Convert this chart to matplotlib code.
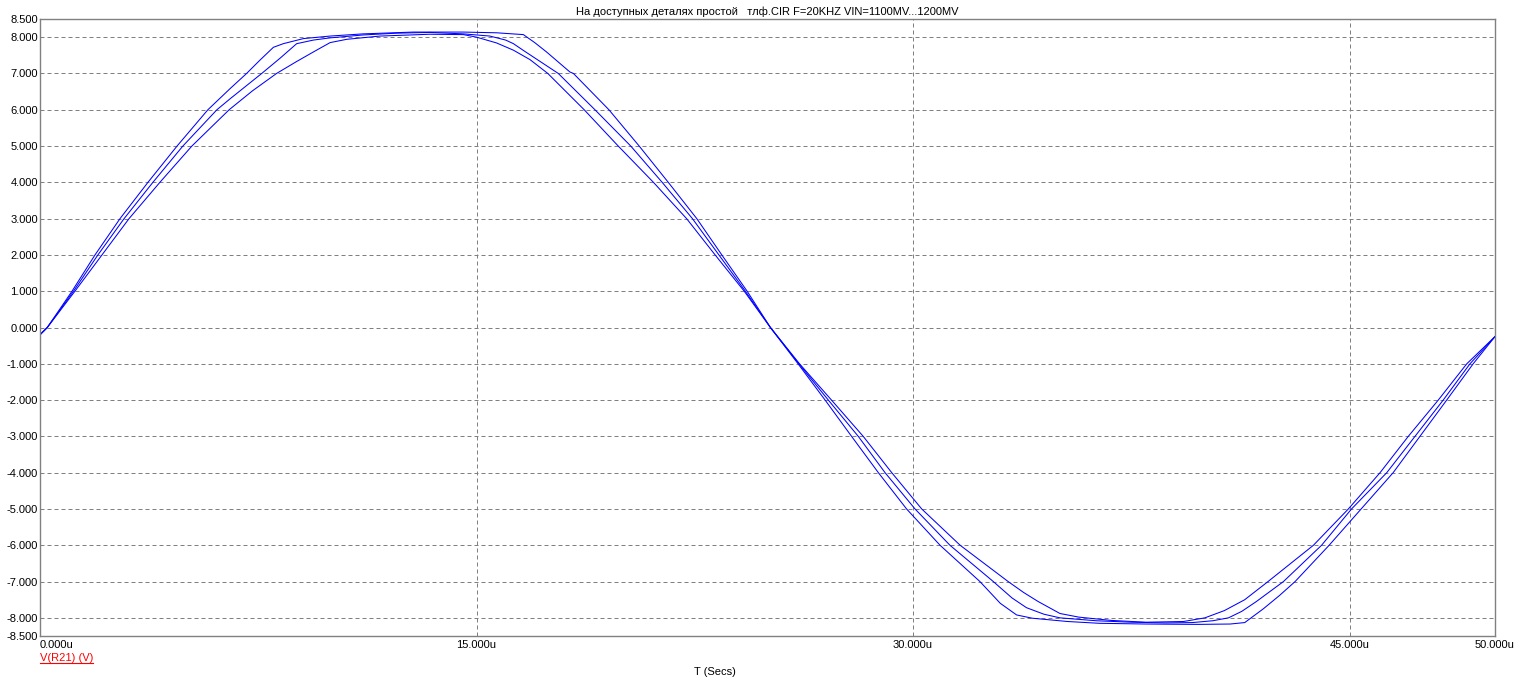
import matplotlib
matplotlib.use("Agg")
import matplotlib.pyplot as plt
from matplotlib.ticker import FormatStrFormatter
from matplotlib.lines import Line2D

plt.rcParams['font.family'] = ['Liberation Sans', 'DejaVu Sans']

title = "На доступных деталях простой   тлф.CIR F=20KHZ VIN=1100MV...1200MV"

# V(R21) for the three input levels (time in us, volts)
t_1200 = [0, 0.25, 1.10, 1.89, 2.75, 3.71, 4.71, 5.77, 6.53, 7.10, 7.55, 8.02, 8.36, 9.05,
          9.97, 11.1, 12.83, 14.55, 15.69, 16.61, 17.0, 17.41, 18.21, 18.33, 19.55, 20.59,
          21.59, 22.57, 23.43, 24.30, 25.10, 26.05, 26.98, 27.89, 28.81, 29.78, 30.93,
          32.30, 32.65, 33.00, 33.56, 34.10, 35.30, 36.40, 38.0, 39.8, 40.9, 41.4, 42.04,
          42.60, 43.13, 44.30, 45.40, 46.50, 47.42, 48.34, 49.25, 50.0]
v_1200 = [-0.20, 0.00, 1.00, 2.00, 3.00, 4.00, 5.00, 6.00, 6.58, 7.00, 7.36, 7.72, 7.82, 7.96,
          8.03, 8.09, 8.14, 8.14, 8.12, 8.07, 7.85, 7.59, 7.04, 7.00, 6.00, 5.00,
          4.00, 3.00, 2.00, 1.00, 0.00, -1.00, -2.00, -3.00, -4.00, -5.00, -6.00,
          -7.00, -7.30, -7.60, -7.92, -8.01, -8.10, -8.15, -8.17, -8.18, -8.17, -8.13, -7.75,
          -7.38, -7.00, -6.00, -5.00, -4.00, -3.00, -2.00, -1.00, -0.25]

t_1150 = [0, 0.25, 1.15, 1.99, 2.89, 3.88, 4.91, 6.08, 6.53, 7.62, 8.25, 8.82, 9.40, 9.97,
          11.1, 12.26, 13.4, 14.55, 15.46, 16.0, 16.27, 16.60, 17.81, 19.07, 20.30, 21.38,
          22.42, 23.33, 24.24, 25.10, 26.08, 27.09, 28.12, 29.04, 30.07, 31.27, 32.76,
          33.40, 33.90, 34.50, 35.05, 36.30, 37.50, 38.70, 39.60, 40.30, 40.84, 41.30,
          41.80, 42.73, 44.04, 45.07, 46.28, 47.25, 48.22, 49.14, 50.0]
v_1150 = [-0.20, 0.00, 1.00, 2.00, 3.00, 4.00, 5.00, 6.00, 6.30, 7.00, 7.42, 7.82, 7.92, 7.98,
          8.06, 8.11, 8.13, 8.09, 8.03, 7.92, 7.82, 7.64, 7.00, 6.00, 5.00, 4.00,
          3.00, 2.00, 1.00, 0.00, -1.00, -2.00, -3.00, -4.00, -5.00, -6.00, -7.00,
          -7.45, -7.72, -7.90, -8.00, -8.08, -8.12, -8.14, -8.13, -8.08, -8.00, -7.82,
          -7.55, -7.00, -6.00, -5.00, -4.00, -3.00, -2.00, -1.00, -0.25]

t_1100 = [0, 0.25, 1.20, 2.13, 3.06, 4.12, 5.22, 6.50, 7.30, 8.13, 8.80, 9.39, 9.97, 10.54,
          11.68, 13.4, 14.55, 15.0, 15.69, 16.27, 16.84, 17.45, 18.70, 19.87, 21.08, 22.22,
          23.20, 24.20, 25.10, 26.10, 27.20, 28.29, 29.27, 30.30, 31.62, 33.27, 33.80,
          34.30, 35.05, 35.70, 36.80, 38.0, 39.3, 40.03, 40.70, 41.40, 42.20, 43.76, 44.96,
          46.05, 47.02, 48.05, 49.03, 50.0]
v_1100 = [-0.20, 0.00, 1.00, 2.00, 3.00, 4.00, 5.00, 6.00, 6.52, 7.00, 7.32, 7.59, 7.85, 7.94,
          8.03, 8.08, 8.07, 8.00, 7.84, 7.64, 7.38, 7.00, 6.00, 5.00, 4.00, 3.00,
          2.00, 1.00, 0.00, -1.00, -2.00, -3.00, -4.00, -5.00, -6.00, -7.00, -7.30,
          -7.55, -7.88, -7.98, -8.07, -8.12, -8.10, -8.00, -7.80, -7.50, -7.00, -6.00, -5.00,
          -4.00, -3.00, -2.00, -1.00, -0.25]

y_ticks = [-8.5, -8, -7, -6, -5, -4, -3, -2, -1, 0, 1, 2, 3, 4, 5, 6, 7, 8, 8.5]
x_ticks = [0, 15, 30, 45, 50]
x_labels = ["0.000u", "15.000u", "30.000u", "45.000u", "50.000u"]

W, H = 1524, 690
fig = plt.figure(figsize=(W / 100, H / 100), dpi=100)
ax = fig.add_axes([40 / W, 1 - 636 / H, 1455 / W, 617 / H])

for t, v in [(t_1100, v_1100), (t_1150, v_1150), (t_1200, v_1200)]:
    ax.plot(t, v, color='#0000ff', lw=0.75)

ax.set_xlim(0, 50)
ax.set_ylim(-8.5, 8.5)
ax.set_yticks(y_ticks)
ax.yaxis.set_major_formatter(FormatStrFormatter('%.3f'))
ax.set_xticks(x_ticks)
ax.set_xticklabels(x_labels)
ax.tick_params(length=0, labelsize=8, colors='black')
ax.tick_params(axis='y', pad=1.5)
ax.tick_params(axis='x', pad=3)
xl = ax.get_xticklabels()
xl[0].set_horizontalalignment('left')

ax.grid(True, color='#808080', lw=0.72, linestyle=(0, (4, 3)))
ax.set_axisbelow(True)
for s in ax.spines.values():
    s.set_color('#808080')
    s.set_linewidth(1.0)

ax.set_title(title, fontsize=8, pad=3)

leg = fig.text(40 / W, 1 - 658 / H, "V(R21) (V)", color='#ff0000', fontsize=8,
               ha='left', va='center')
fig.text(715 / W, 1 - 672 / H, "T (Secs)", fontsize=8, ha='center', va='center')

# underline for the trace name
fig.canvas.draw()
bb = leg.get_window_extent().transformed(fig.transFigure.inverted())
fig.add_artist(Line2D([bb.x0, bb.x1], [bb.y0 + 0.5 / H, bb.y0 + 0.5 / H],
                      color='#ff0000', lw=0.8, transform=fig.transFigure))

fig.savefig("out.png", dpi=100)
